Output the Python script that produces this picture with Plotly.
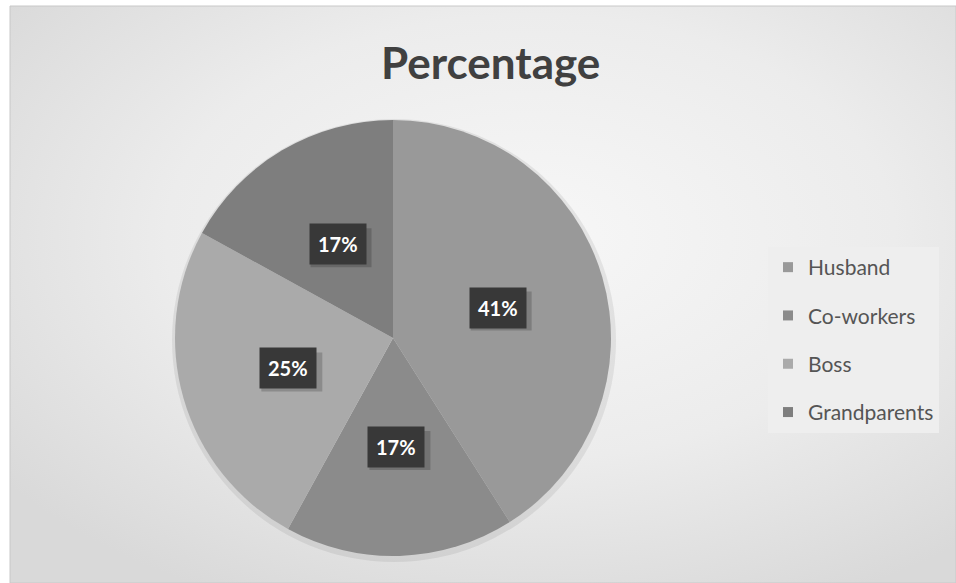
import math
import plotly.graph_objects as go

categories = ["Husband", "Co-workers", "Boss", "Grandparents"]
values = [41, 17, 25, 17]
colors = ["#999999", "#8b8b8b", "#aaaaaa", "#7e7e7e"]
title_text = "Percentage"

W, H = 956, 583
cx_px, cy_px, R = 393, 338, 218

bg_svg = (
    "data:image/svg+xml;utf8,"
    "<svg xmlns='http://www.w3.org/2000/svg' width='946' height='577'>"
    "<defs><radialGradient id='g' cx='55%' cy='40%' r='70%'>"
    "<stop offset='0%' stop-color='%23f7f7f7'/>"
    "<stop offset='55%' stop-color='%23ececec'/>"
    "<stop offset='100%' stop-color='%23d9d9d9'/>"
    "</radialGradient></defs>"
    "<rect width='946' height='577' fill='url(%23g)'/></svg>"
)

fig = go.Figure()
fig.add_trace(go.Pie(
    labels=categories, values=values, sort=False, direction="clockwise",
    rotation=0, marker=dict(colors=colors, line=dict(width=0)),
    textinfo="none", showlegend=False, hoverinfo="label+percent",
    domain=dict(x=[(cx_px - R) / W, (cx_px + R) / W],
                y=[(H - cy_px - R) / H, (H - cy_px + R) / H]),
))

# legend entries via invisible scatter traces (for spacing)
for c, col in zip(categories, colors):
    fig.add_trace(go.Scatter(
        x=[None], y=[None], mode="markers", name=c,
        marker=dict(symbol="square", size=10, color=col),
        legendgroup=c, showlegend=True,
    ))

# data labels
total = sum(values)
cum = 0
annotations = []
label_shadows = []
for v in values:
    mid = (cum + v / 2) / total * 2 * math.pi
    cum += v
    px = cx_px + 0.5 * R * math.sin(mid)
    py = cy_px - 0.5 * R * math.cos(mid)
    label = f"{round(v / total * 100)}%"
    label_shadows.append(dict(type="rect", xref="paper", yref="paper", layer="above",
                              x0=(px - 27) / W, x1=(px + 34) / W,
                              y0=1 - (py + 23) / H, y1=1 - (py - 16) / H,
                              fillcolor="rgba(0,0,0,0.18)", line=dict(width=0)))
    annotations.append(dict(text=label, x=px / W, y=1 - py / H,
                            xref="paper", yref="paper", showarrow=False,
                            xanchor="center", yanchor="middle",
                            borderpad=8, bgcolor="#383838",
                            font=dict(family="Lato", size=20, weight="bold",
                                      color="#ffffff")))

annotations.append(dict(text=title_text, x=490 / W, y=1 - 62 / H,
                        xref="paper", yref="paper", showarrow=False,
                        xanchor="center", yanchor="middle",
                        font=dict(family="Lato", size=44, weight="bold",
                                  color="#404040")))

shapes = [
    dict(type="circle", xref="paper", yref="paper", layer="below",
         x0=(cx_px - R - 3) / W, x1=(cx_px + R + 5) / W,
         y0=1 - (cy_px + R + 6) / H, y1=1 - (cy_px - R - 1) / H,
         fillcolor="rgba(0,0,0,0.07)", line=dict(width=0)),
    dict(type="rect", xref="paper", yref="paper", layer="below",
         x0=10 / W, x1=1, y0=0, y1=1 - 6 / H,
         line=dict(color="#c8c8c8", width=1)),
] + label_shadows

fig.update_layout(
    width=W, height=H,
    margin=dict(l=0, r=0, t=0, b=0),
    paper_bgcolor="#ffffff", plot_bgcolor="rgba(0,0,0,0)",
    xaxis=dict(visible=False), yaxis=dict(visible=False),
    images=[dict(source=bg_svg, xref="paper", yref="paper",
                 x=10 / W, y=1 - 6 / H, sizex=1 - 10 / W, sizey=1 - 6 / H,
                 sizing="stretch", layer="below", xanchor="left", yanchor="top")],
    shapes=shapes,
    legend=dict(x=768 / W, y=1 - 247 / H, xanchor="left", yanchor="top",
                bgcolor="#eeeeee", borderwidth=0, tracegroupgap=18,
                font=dict(family="Lato", size=21, color="#555555"),
                itemclick=False, itemdoubleclick=False),
    annotations=annotations,
    showlegend=True,
)

fig.write_html("out.html", config={"displayModeBar": False},
               post_script="document.body.style.margin='0';document.body.style.padding='0';")
